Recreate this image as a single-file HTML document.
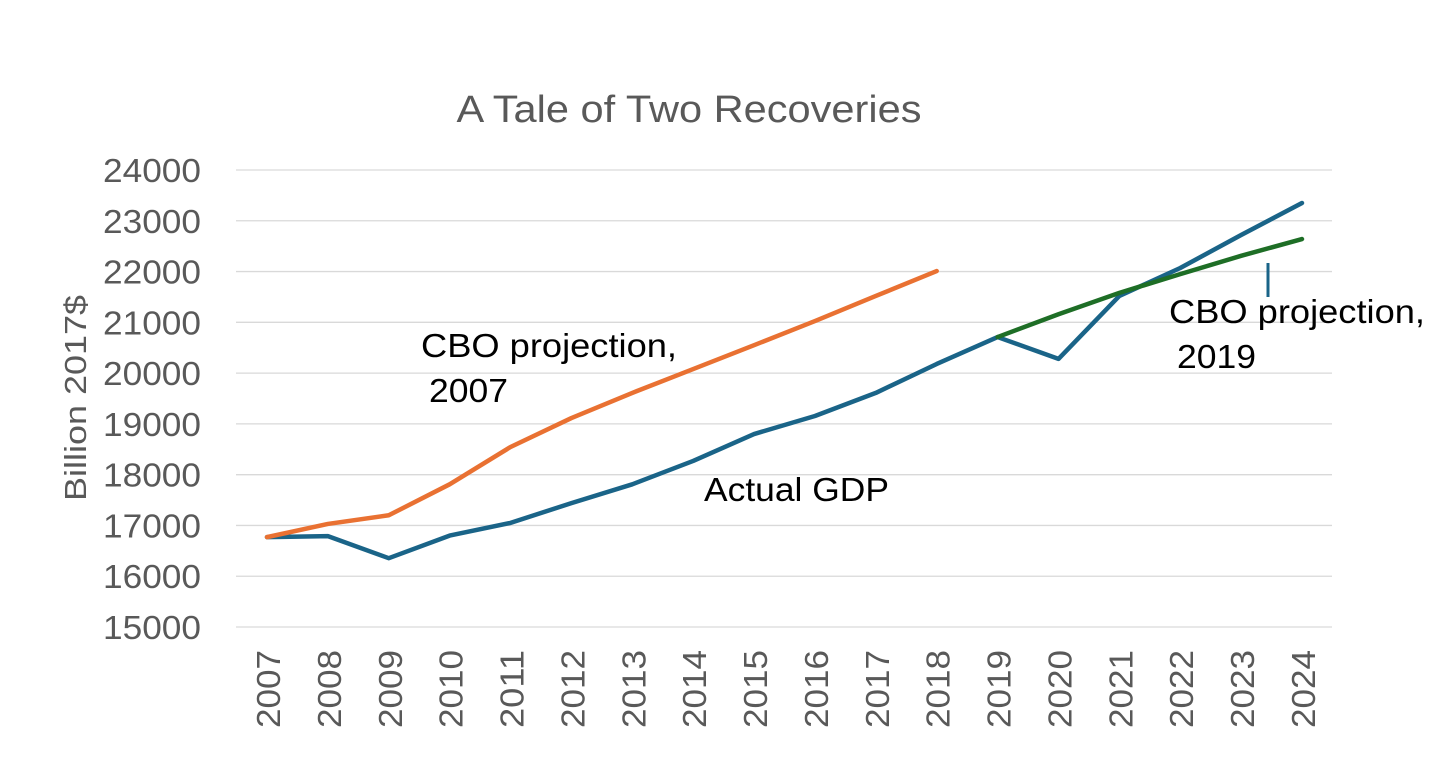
<!DOCTYPE html>
<html>
<head>
<meta charset="utf-8">
<style>
html,body{margin:0;padding:0;background:#fff;width:1432px;height:776px;overflow:hidden}
svg{display:block}
text{font-family:"Liberation Sans",sans-serif}
</style>
</head>
<body>
<svg id="chart" width="1432" height="776" viewBox="0 0 1432 776" xmlns="http://www.w3.org/2000/svg">
<rect width="1432" height="776" fill="#ffffff"/>
<text x="689" y="122" font-size="38" fill="#595959" text-anchor="middle" textLength="465" lengthAdjust="spacingAndGlyphs">A Tale of Two Recoveries</text>
<text transform="translate(86,398) rotate(-90)" font-size="31" fill="#595959" text-anchor="middle" textLength="206" lengthAdjust="spacingAndGlyphs">Billion 2017$</text>
<g id="grid"></g>
<g id="yticks"></g>
<g id="xticks"></g>
<g id="series"></g>
<text x="421" y="357" font-size="33" fill="#000" textLength="256" lengthAdjust="spacingAndGlyphs">CBO projection,</text>
<text x="429" y="402" font-size="33" fill="#000" textLength="79" lengthAdjust="spacingAndGlyphs">2007</text>
<text x="704" y="501" font-size="33" fill="#000" textLength="185" lengthAdjust="spacingAndGlyphs">Actual GDP</text>
<text x="1169" y="323" font-size="33" fill="#000" textLength="256" lengthAdjust="spacingAndGlyphs">CBO projection,</text>
<text x="1177" y="368" font-size="33" fill="#000" textLength="79" lengthAdjust="spacingAndGlyphs">2019</text>
<line x1="1268" y1="263" x2="1268" y2="297" stroke="#1a6488" stroke-width="3"/>
</svg>
<script>
const categories = [2007,2008,2009,2010,2011,2012,2013,2014,2015,2016,2017,2018,2019,2020,2021,2022,2023,2024];
const yTickValues = [15000,16000,17000,18000,19000,20000,21000,22000,23000,24000];
const actualGdp = [16770,16790,16355,16800,17050,17440,17810,18270,18800,19155,19610,20180,20710,20280,21520,22070,22720,23350];
const cbo2007 = [16770,17030,17200,17810,18545,19115,19610,20080,20550,21025,21520,22010];
const cbo2019 = [20710,21160,21580,21950,22310,22640];
const cbo2019Start = 2019;

const NS = 'http://www.w3.org/2000/svg';
function xScale(year){ return 267 + (year - 2007) * (1302 - 267) / 17; }
function yScale(v){ return 627 - (v - 15000) * (627 - 170) / 9000; }
function make(tag, attrs, parent){
  const el = document.createElementNS(NS, tag);
  for (const k in attrs) el.setAttribute(k, attrs[k]);
  parent.appendChild(el);
  return el;
}
const grid = document.getElementById('grid');
const yticks = document.getElementById('yticks');
const xticks = document.getElementById('xticks');
const series = document.getElementById('series');

yTickValues.forEach(function(v){
  const line = make('line', {x1:236, x2:1332, y1:yScale(v), y2:yScale(v), stroke:'#d9d9d9', 'stroke-width':1.3}, grid);
  
  
  const t = make('text', {x:201, y:yScale(v)+12, 'text-anchor':'end', 'font-size':33, fill:'#595959', textLength:98, lengthAdjust:'spacingAndGlyphs'}, yticks);
  
  
  t.textContent = v;
});
categories.forEach(function(c){
  const x = xScale(c);
  const t = make('text', {transform:'translate('+(x+13)+',728) rotate(-90)', 'font-size':33, fill:'#595959', textLength:78, lengthAdjust:'spacingAndGlyphs'}, xticks);
  
  
  t.textContent = c;
});
function pathFrom(values, startYear){
  return values.map(function(v, i){
    return (i ? 'L' : 'M') + xScale(startYear + i) + ' ' + yScale(v);
  }).join(' ');
}
const lineActual = make('path', {d:pathFrom(actualGdp, categories[0]), fill:'none', stroke:'#1a6488', 'stroke-width':4.5, 'stroke-linejoin':'round', 'stroke-linecap':'round'}, series);


const line2007 = make('path', {d:pathFrom(cbo2007, categories[0]), fill:'none', stroke:'#e97132', 'stroke-width':4.5, 'stroke-linejoin':'round', 'stroke-linecap':'round'}, series);


const line2019 = make('path', {d:pathFrom(cbo2019, cbo2019Start), fill:'none', stroke:'#1e6e26', 'stroke-width':4.5, 'stroke-linejoin':'round', 'stroke-linecap':'round'}, series);


</script>
</body>
</html>
